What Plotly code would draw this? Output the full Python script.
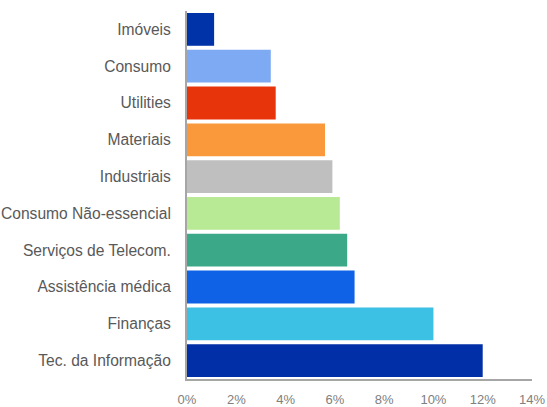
import plotly.graph_objects as go

categories = ["Imóveis", "Consumo", "Utilities", "Materiais", "Industriais",
              "Consumo Não-essencial", "Serviços de Telecom.", "Assistência médica",
              "Finanças", "Tec. da Informação"]
values = [1.1, 3.4, 3.6, 5.6, 5.9, 6.2, 6.5, 6.8, 10.0, 12.0]
colors = ["#0033A8", "#7DAAF2", "#E8340A", "#FA993C", "#BFBFBF",
          "#B8E994", "#3BA887", "#0F62E6", "#3CC0E3", "#002FA7"]
tick_vals = [0, 2, 4, 6, 8, 10, 12, 14]
tick_text = ["0%", "2%", "4%", "6%", "8%", "10%", "12%", "14%"]

fig = go.Figure(go.Bar(
    x=values, y=categories, orientation="h",
    marker=dict(color=colors, line=dict(width=0)),
    hoverinfo="x+y",
))

fig.update_layout(
    width=547, height=407,
    margin=dict(l=187, r=15, t=11, b=28, autoexpand=False),
    paper_bgcolor="white", plot_bgcolor="white",
    bargap=0.11,
    showlegend=False,
    font=dict(family="Liberation Sans, Arial, sans-serif"),
)
fig.update_xaxes(
    range=[0, 14], tickvals=tick_vals, ticktext=tick_text,
    showgrid=False, zeroline=False, automargin=False,
    showline=True, linecolor="#A6A6A6", linewidth=2,
    ticks="outside", ticklen=7, tickcolor="rgba(0,0,0,0)",
    tickfont=dict(size=13, color="#808080"),
)
fig.update_yaxes(
    categoryorder="array", categoryarray=categories, autorange="reversed",
    showgrid=False, zeroline=False, automargin=False,
    showline=True, linecolor="#A6A6A6", linewidth=2,
    ticks="outside", ticklen=11, tickcolor="rgba(0,0,0,0)",
    tickfont=dict(size=15.6, color="#595959"),
)

fig.write_html(
    "out.html",
    config={"displayModeBar": False},
    post_script="document.body.style.margin='0';document.body.style.overflow='hidden';",
)
